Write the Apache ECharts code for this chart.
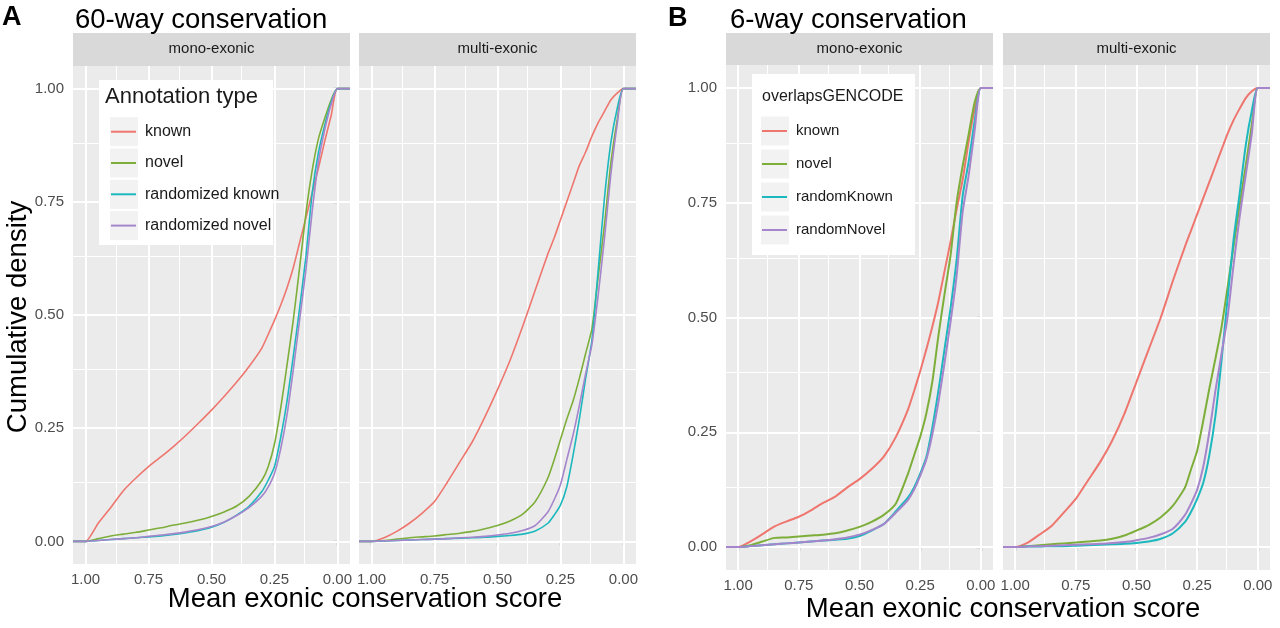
<!DOCTYPE html>
<html>
<head>
<meta charset="utf-8">
<script src="https://cdn.jsdelivr.net/npm/echarts@6/dist/echarts.min.js"></script>
<style>
  html, body { margin: 0; padding: 0; background: #fff; }
  #chart { width: 1280px; height: 628px; }
</style>
</head>
<body>
<div id="chart"></div>
<script>
(function () {
  'use strict';

  // x positions shared by every curve (1.05 and -0.05 are the ECDF pads at the panel edges)
  const SCORE = [1.05, 1.0, 0.95, 0.9, 0.85, 0.8, 0.75, 0.7, 0.65, 0.6, 0.55, 0.5, 0.45, 0.4, 0.35,
    0.3, 0.275, 0.25, 0.225, 0.2, 0.175, 0.15, 0.125, 0.1, 0.075, 0.05, 0.025, 0.0, -0.05];

  // A: 60-way conservation
  const A60_MONO_KNOWN = [0, 0, 0.04, 0.075, 0.112, 0.14, 0.165, 0.187, 0.21, 0.235, 0.262, 0.29, 0.32, 0.352, 0.387,
    0.427, 0.457, 0.488, 0.522, 0.56, 0.605, 0.66, 0.715, 0.77, 0.825, 0.885, 0.94, 1, 1];
  const A60_MONO_NOVEL = [0, 0, 0.006, 0.012, 0.016, 0.02, 0.025, 0.03, 0.036, 0.041, 0.047, 0.055, 0.065, 0.078, 0.1,
    0.135, 0.165, 0.215, 0.295, 0.39, 0.49, 0.605, 0.725, 0.82, 0.89, 0.935, 0.975, 1, 1];
  const A60_MONO_RKNOWN = [0, 0, 0.002, 0.004, 0.006, 0.008, 0.01, 0.012, 0.015, 0.019, 0.024, 0.031, 0.042, 0.058, 0.078,
    0.11, 0.135, 0.165, 0.23, 0.31, 0.41, 0.515, 0.63, 0.77, 0.86, 0.92, 0.97, 1, 1];
  const A60_MONO_RNOVEL = [0, 0, 0.002, 0.004, 0.006, 0.008, 0.011, 0.014, 0.017, 0.021, 0.026, 0.033, 0.043, 0.057, 0.075,
    0.1, 0.12, 0.15, 0.205, 0.28, 0.38, 0.49, 0.6, 0.73, 0.84, 0.91, 0.965, 1, 1];

  const A60_MULTI_KNOWN = [0, 0, 0.008, 0.022, 0.04, 0.062, 0.088, 0.13, 0.175, 0.22, 0.275, 0.335, 0.4, 0.475, 0.555,
    0.635, 0.67, 0.71, 0.75, 0.79, 0.83, 0.86, 0.895, 0.925, 0.95, 0.975, 0.99, 1, 1];
  const A60_MULTI_NOVEL = [0, 0, 0.002, 0.005, 0.008, 0.01, 0.012, 0.015, 0.018, 0.022, 0.028, 0.035, 0.045, 0.06, 0.088,
    0.14, 0.18, 0.225, 0.27, 0.31, 0.36, 0.415, 0.47, 0.585, 0.7, 0.835, 0.93, 1, 1];
  const A60_MULTI_RKNOWN = [0, 0, 0.001, 0.002, 0.003, 0.004, 0.005, 0.006, 0.007, 0.008, 0.009, 0.011, 0.013, 0.016, 0.023,
    0.04, 0.058, 0.08, 0.12, 0.19, 0.27, 0.36, 0.445, 0.6, 0.76, 0.88, 0.955, 1, 1];
  const A60_MULTI_RNOVEL = [0, 0, 0.001, 0.002, 0.003, 0.004, 0.005, 0.006, 0.008, 0.009, 0.011, 0.014, 0.018, 0.024, 0.035,
    0.065, 0.092, 0.125, 0.18, 0.235, 0.3, 0.37, 0.435, 0.545, 0.67, 0.81, 0.92, 1, 1];

  // B: 6-way conservation
  const B6_MONO_KNOWN = [0, 0, 0.012, 0.028, 0.045, 0.056, 0.066, 0.08, 0.096, 0.11, 0.13, 0.148, 0.17, 0.197, 0.24,
    0.3, 0.34, 0.383, 0.43, 0.48, 0.535, 0.6, 0.665, 0.735, 0.8, 0.885, 0.955, 1, 1];
  const B6_MONO_NOVEL = [0, 0, 0.004, 0.012, 0.02, 0.021, 0.023, 0.025, 0.027, 0.03, 0.036, 0.044, 0.055, 0.07, 0.095,
    0.16, 0.2, 0.24, 0.29, 0.36, 0.46, 0.55, 0.635, 0.75, 0.83, 0.9, 0.97, 1, 1];
  const B6_MONO_RKNOWN = [0, 0, 0.002, 0.004, 0.006, 0.008, 0.01, 0.012, 0.014, 0.016, 0.018, 0.024, 0.036, 0.05, 0.078,
    0.108, 0.13, 0.16, 0.195, 0.26, 0.34, 0.43, 0.52, 0.625, 0.765, 0.84, 0.93, 1, 1];
  const B6_MONO_RNOVEL = [0, 0, 0.002, 0.004, 0.006, 0.008, 0.01, 0.012, 0.014, 0.017, 0.021, 0.027, 0.037, 0.05, 0.075,
    0.103, 0.125, 0.155, 0.19, 0.245, 0.315, 0.4, 0.49, 0.59, 0.73, 0.81, 0.91, 1, 1];

  const B6_MULTI_KNOWN = [0, 0, 0.009, 0.027, 0.046, 0.075, 0.105, 0.145, 0.185, 0.232, 0.29, 0.36, 0.43, 0.5, 0.58,
    0.655, 0.69, 0.725, 0.76, 0.795, 0.83, 0.865, 0.9, 0.93, 0.955, 0.978, 0.993, 1, 1];
  const B6_MULTI_NOVEL = [0, 0, 0.002, 0.004, 0.006, 0.008, 0.01, 0.012, 0.014, 0.018, 0.025, 0.036, 0.048, 0.065, 0.09,
    0.13, 0.17, 0.21, 0.275, 0.345, 0.41, 0.478, 0.565, 0.655, 0.745, 0.83, 0.92, 1, 1];
  const B6_MULTI_RKNOWN = [0, 0, 0.001, 0.001, 0.002, 0.002, 0.003, 0.004, 0.005, 0.006, 0.007, 0.009, 0.012, 0.018, 0.03,
    0.055, 0.077, 0.105, 0.14, 0.2, 0.285, 0.405, 0.54, 0.67, 0.77, 0.875, 0.95, 1, 1];
  const B6_MULTI_RNOVEL = [0, 0, 0.001, 0.002, 0.003, 0.004, 0.005, 0.006, 0.007, 0.009, 0.011, 0.015, 0.02, 0.028, 0.04,
    0.07, 0.095, 0.125, 0.175, 0.25, 0.34, 0.42, 0.5, 0.615, 0.72, 0.81, 0.9, 1, 1];

  const NAMES_A = ['known', 'novel', 'randomized known', 'randomized novel'];
  const NAMES_B = ['known', 'novel', 'randomKnown', 'randomNovel'];
  const COLORS = ['#EE766E', '#7DAE3A', '#1CB8BE', '#A585CC'];
  const FACETS = ['mono-exonic', 'multi-exonic', 'mono-exonic', 'multi-exonic'];

  const MAJOR = [0, 0.25, 0.5, 0.75, 1];
  const MINOR = [0.125, 0.375, 0.625, 0.875];
  const TICK_TEXT = MAJOR;

  const FONT = '"Liberation Sans", Arial, Helvetica, sans-serif';
  const PANELS = [
    { left: 73, top: 66, width: 277, height: 498 },
    { left: 359, top: 66, width: 277, height: 498 },
    { left: 726, top: 65, width: 267, height: 505 },
    { left: 1003, top: 65, width: 267, height: 505 }
  ];

  const CURVES = [
    { grid: 0, names: NAMES_A, width: 1.6, values: [A60_MONO_KNOWN, A60_MONO_NOVEL, A60_MONO_RKNOWN, A60_MONO_RNOVEL] },
    { grid: 1, names: NAMES_A, width: 1.6, values: [A60_MULTI_KNOWN, A60_MULTI_NOVEL, A60_MULTI_RKNOWN, A60_MULTI_RNOVEL] },
    { grid: 2, names: NAMES_B, width: 2, values: [B6_MONO_KNOWN, B6_MONO_NOVEL, B6_MONO_RKNOWN, B6_MONO_RNOVEL] },
    { grid: 3, names: NAMES_B, width: 2, values: [B6_MULTI_KNOWN, B6_MULTI_NOVEL, B6_MULTI_RKNOWN, B6_MULTI_RNOVEL] }
  ];

  function text(x, y, str, font, opts) {
    opts = opts || {};
    return {
      type: 'text', x: x, y: y, rotation: opts.rotation || 0, z: opts.z || 20, silent: true,
      style: {
        text: str, font: font, fill: opts.fill || '#1a1a1a',
        textAlign: opts.align || 'left', textVerticalAlign: 'middle',
        align: opts.align || 'left', verticalAlign: 'middle'
      }
    };
  }

  function rect(x, y, w, h, fill, z) {
    return { type: 'rect', silent: true, z: z, shape: { x: x, y: y, width: w, height: h }, style: { fill: fill } };
  }

  // white grid lines drawn through the axis scales, kept under the curves
  function gridLines(gi) {
    const lines = [];
    MINOR.forEach(function (v) {
      lines.push({ xAxis: v, lineStyle: { width: 1 } });
      lines.push({ yAxis: v, lineStyle: { width: 1 } });
    });
    MAJOR.forEach(function (v) {
      lines.push({ xAxis: v, lineStyle: { width: 2 } });
      lines.push({ yAxis: v, lineStyle: { width: 2 } });
    });
    return {
      type: 'line', xAxisIndex: gi, yAxisIndex: gi, data: [], z: 1, silent: true,
      markLine: {
        z: 1, silent: true, symbol: 'none', animation: false, label: { show: false },
        lineStyle: { color: '#ffffff', type: 'solid', opacity: 1 },
        emphasis: { disabled: true },
        data: lines
      }
    };
  }

  const grids = PANELS.map(function (p) {
    return {
      left: p.left, top: p.top, width: p.width, height: p.height,
      show: true, backgroundColor: '#EBEBEB', borderWidth: 0,
      containLabel: false, outerBoundsMode: 'none'
    };
  });

  const xAxes = PANELS.map(function (p, i) {
    return {
      type: 'value', gridIndex: i, inverse: true, min: -0.05, max: 1.05,
      axisLine: { show: false },
      splitLine: { show: false },
      axisTick: { show: true, length: 4, customValues: TICK_TEXT, lineStyle: { color: '#333333', width: 1.2 } },
      axisLabel: {
        show: true, customValues: TICK_TEXT, margin: 8, color: '#4D4D4D', fontSize: 15, fontFamily: FONT,
        formatter: function (v) { return v.toFixed(2); }
      }
    };
  });

  const yAxes = PANELS.map(function (p, i) {
    const showLab = i === 0 || i === 2;
    return {
      type: 'value', gridIndex: i, min: -0.05, max: 1.05,
      axisLine: { show: false },
      splitLine: { show: false },
      axisTick: { show: showLab, length: 4, customValues: TICK_TEXT, lineStyle: { color: '#333333', width: 1.2 } },
      axisLabel: {
        show: showLab, customValues: TICK_TEXT, margin: 9, color: '#4D4D4D', fontSize: 15, fontFamily: FONT,
        formatter: function (v) { return v.toFixed(2); }
      }
    };
  });

  const series = [];
  PANELS.forEach(function (p, i) { series.push(gridLines(i)); });
  CURVES.forEach(function (c) {
    c.values.forEach(function (vals, k) {
      series.push({
        type: 'line', name: c.names[k], xAxisIndex: c.grid, yAxisIndex: c.grid,
        data: SCORE.map(function (s, j) { return [s, vals[j]]; }),
        showSymbol: false, symbol: 'none', smooth: 0.2, z: 10 + k, silent: true,
        itemStyle: { color: COLORS[k] },
        lineStyle: { color: COLORS[k], width: c.width },
        emphasis: { disabled: true },
        animation: false
      });
    });
  });

  // legends: white box, grey key squares, title
  const LEG_A = { box: [99, 80, 174, 165], title: 'Annotation type', titleFont: '22px ' + FONT, titleX: 105,
    keyX: 110, row0: 131.7, step: 31.3, fontSize: 16 };
  const LEG_B = { box: [752, 74, 163, 181], title: 'overlapsGENCODE', titleFont: '16px ' + FONT, titleX: 762,
    keyX: 761, row0: 131, step: 33, fontSize: 15 };

  function legendFor(cfg, names) {
    return {
      orient: 'vertical', left: cfg.keyX + 1, top: cfg.row0 - 10, z: 30,
      data: names, icon: 'rect', itemWidth: 25, itemHeight: 2, itemGap: cfg.step - 20,
      selectedMode: false, padding: 0,
      textStyle: { fontSize: cfg.fontSize, fontFamily: FONT, color: '#1a1a1a', lineHeight: 20, padding: [0, 0, 0, 4] }
    };
  }

  function legendDecor(cfg) {
    const out = [rect(cfg.box[0], cfg.box[1], cfg.box[2], cfg.box[3], '#ffffff', 10)];
    for (let k = 0; k < 4; k++) {
      out.push(rect(cfg.keyX, cfg.row0 + k * cfg.step - 14.5, 28, 29, '#F2F2F2', 11));
    }
    out.push(text(cfg.titleX, 97, cfg.title, cfg.titleFont, { z: 12 }));
    return out;
  }

  const TITLE_FONT = '27.5px ' + FONT;
  const graphics = [];
  PANELS.forEach(function (p, i) {
    graphics.push(rect(p.left, 33, p.width, p.top - 33, '#D9D9D9', 5));
    graphics.push(text(p.left + p.width / 2, 48.5, FACETS[i], '15px ' + FONT, { align: 'center', fill: '#1a1a1a', z: 6 }));
  });
  graphics.push(text(2, 17.5, 'A', 'bold 27px ' + FONT, { fill: '#000' }));
  graphics.push(text(75, 20.5, '60-way conservation', TITLE_FONT, { fill: '#000' }));
  graphics.push(text(668, 18.5, 'B', 'bold 27px ' + FONT, { fill: '#000' }));
  graphics.push(text(730, 20.5, '6-way conservation', TITLE_FONT, { fill: '#000' }));
  graphics.push(text(365, 599, 'Mean exonic conservation score', TITLE_FONT, { align: 'center', fill: '#000' }));
  graphics.push(text(1003, 609, 'Mean exonic conservation score', TITLE_FONT, { align: 'center', fill: '#000' }));
  graphics.push(text(18, 317, 'Cumulative density', TITLE_FONT, { align: 'center', fill: '#000', rotation: Math.PI / 2 }));
  legendDecor(LEG_A).forEach(function (g) { graphics.push(g); });
  legendDecor(LEG_B).forEach(function (g) { graphics.push(g); });

  const chart = echarts.init(document.getElementById('chart'), null, { renderer: 'canvas' });
  chart.setOption({
    backgroundColor: '#ffffff',
    animation: false,
    grid: grids,
    xAxis: xAxes,
    yAxis: yAxes,
    legend: [legendFor(LEG_A, NAMES_A), legendFor(LEG_B, NAMES_B)],
    graphic: { elements: graphics },
    series: series
  });
  window.addEventListener('resize', function () { chart.resize(); });
})();
</script>
</body>
</html>
